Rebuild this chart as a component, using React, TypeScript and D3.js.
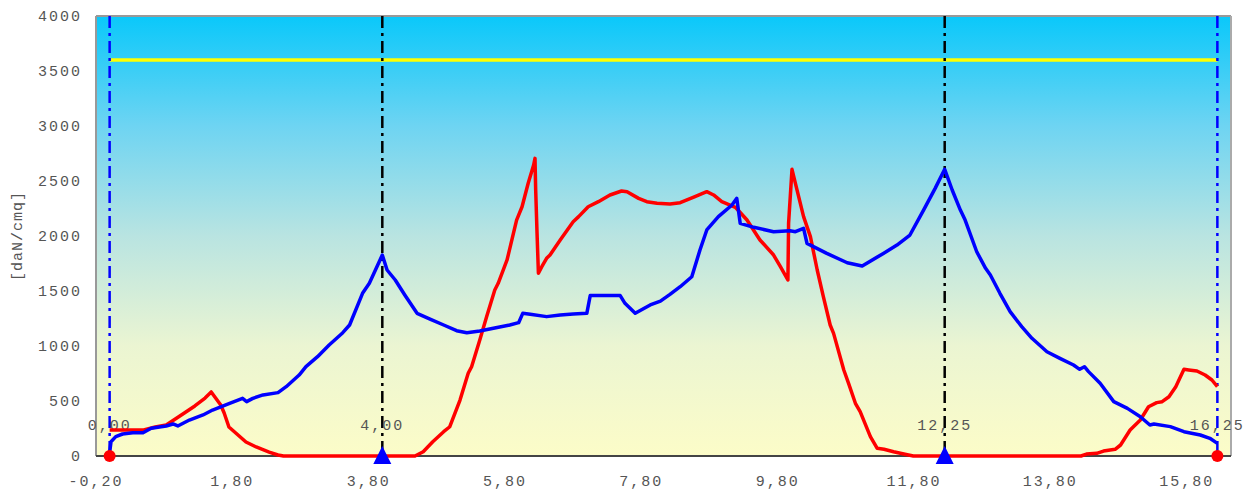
import React from "react";
import * as d3 from "d3";

const redX = [0, 0.5, 0.67, 0.83, 1.03, 1.25, 1.4, 1.49, 1.63, 1.68, 1.75, 1.85, 2.0, 2.15, 2.34, 2.47, 2.55, 4.48, 4.6, 4.74, 4.9, 4.99, 5.14, 5.26, 5.31, 5.43, 5.53, 5.65, 5.7, 5.83, 5.97, 6.05, 6.14, 6.22, 6.24, 6.25, 6.27, 6.29, 6.34, 6.41, 6.46, 6.61, 6.8, 6.88, 7.02, 7.17, 7.34, 7.51, 7.59, 7.76, 7.88, 8.03, 8.22, 8.37, 8.56, 8.76, 8.86, 8.98, 9.18, 9.35, 9.54, 9.74, 9.84, 9.91, 9.95, 9.96, 10.01, 10.06, 10.18, 10.28, 10.38, 10.47, 10.57, 10.62, 10.77, 10.84, 10.94, 11.01, 11.16, 11.26, 11.36, 11.5, 11.65, 11.72, 11.79, 14.25, 14.33, 14.48, 14.58, 14.75, 14.83, 14.97, 15.12, 15.24, 15.36, 15.44, 15.54, 15.64, 15.76, 15.83, 15.95, 16.07, 16.17, 16.25];
const redY = [236, 236, 264, 282, 364, 455, 527, 582, 464, 391, 264, 209, 127, 82, 36, 9, 0, 0, 39, 130, 221, 266, 509, 752, 812, 1055, 1266, 1509, 1570, 1782, 2145, 2266, 2479, 2645, 2706, 2418, 2024, 1661, 1721, 1797, 1827, 1964, 2130, 2176, 2266, 2312, 2373, 2409, 2403, 2342, 2312, 2297, 2291, 2303, 2352, 2403, 2373, 2312, 2261, 2145, 1964, 1827, 1721, 1645, 1600, 2115, 2606, 2479, 2176, 1994, 1691, 1448, 1191, 1115, 782, 661, 479, 403, 176, 70, 61, 39, 18, 9, 0, 0, 18, 24, 45, 61, 100, 236, 327, 448, 485, 494, 539, 630, 788, 782, 773, 736, 691, 630];

const blueX = [0, 0.02, 0.09, 0.19, 0.34, 0.49, 0.61, 0.83, 0.93, 1.0, 1.17, 1.37, 1.51, 1.76, 1.95, 2.01, 2.1, 2.25, 2.47, 2.59, 2.78, 2.88, 3.05, 3.22, 3.42, 3.52, 3.71, 3.81, 4.0, 4.07, 4.19, 4.33, 4.51, 4.7, 4.9, 5.09, 5.24, 5.43, 5.63, 5.87, 6.0, 6.06, 6.17, 6.41, 6.61, 6.8, 7.0, 7.05, 7.49, 7.56, 7.71, 7.93, 8.08, 8.22, 8.37, 8.54, 8.66, 8.76, 8.93, 9.13, 9.2, 9.25, 9.45, 9.74, 9.98, 10.06, 10.18, 10.23, 10.52, 10.82, 11.04, 11.35, 11.55, 11.74, 11.94, 12.11, 12.25, 12.36, 12.48, 12.55, 12.72, 12.85, 12.92, 13.06, 13.21, 13.38, 13.53, 13.75, 13.94, 14.14, 14.23, 14.3, 14.36, 14.53, 14.73, 14.93, 15.12, 15.26, 15.32, 15.56, 15.76, 16.0, 16.14, 16.25];
const blueY = [30, 130, 176, 200, 212, 212, 252, 273, 291, 273, 327, 373, 418, 479, 524, 494, 524, 555, 576, 630, 736, 812, 903, 1009, 1121, 1191, 1479, 1570, 1827, 1691, 1600, 1464, 1297, 1245, 1191, 1139, 1121, 1136, 1161, 1191, 1212, 1297, 1288, 1267, 1282, 1291, 1297, 1458, 1458, 1388, 1297, 1373, 1408, 1469, 1539, 1630, 1873, 2055, 2176, 2282, 2342, 2115, 2079, 2039, 2048, 2039, 2070, 1933, 1842, 1757, 1727, 1842, 1918, 2009, 2236, 2433, 2606, 2418, 2236, 2145, 1857, 1706, 1645, 1479, 1312, 1176, 1070, 948, 888, 827, 788, 812, 767, 661, 494, 433, 357, 282, 291, 267, 221, 191, 161, 115];

const yTicks = [0, 500, 1000, 1500, 2000, 2500, 3000, 3500, 4000];
const xTicks = [-0.2, 1.8, 3.8, 5.8, 7.8, 9.8, 11.8, 13.8, 15.8];
const limitValue = 3600;
const limitRange = [0, 16.25];
const blueMarks = [0, 16.25];
const blackMarks = [4.0, 12.25];
const redDots = [0, 16.25];
const triangles = [4.0, 12.25];
const markLabels = [0, 4.0, 12.25, 16.25];

const fmt = (v: number) => v.toFixed(2).replace(".", ",");

export default function App() {
  const W = 1258, H = 493;
  const x = d3.scaleLinear().domain([-0.2, 16.45]).range([96, 1231]);
  const y = d3.scaleLinear().domain([0, 4000]).range([456, 16]);
  const line = d3.line<[number, number]>().x(d => x(d[0])).y(d => y(d[1]));
  const red = line(d3.zip(redX, redY) as [number, number][]) || "";
  const blue = line(d3.zip(blueX, blueY) as [number, number][]) || "";
  const font = "'Liberation Mono', 'DejaVu Sans Mono', monospace";
  const [x0, x1] = x.range();
  const [yb, yt] = y.range();
  return (
    <svg width={W} height={H} style={{ position: "absolute", left: 0, top: 0 }}>
      <defs>
        <linearGradient id="bg" x1="0" y1="0" x2="0" y2="1">
          <stop offset="0%" stopColor="rgb(10,200,250)" />
          <stop offset="25%" stopColor="rgb(110,212,242)" />
          <stop offset="50%" stopColor="rgb(185,228,225)" />
          <stop offset="75%" stopColor="rgb(235,245,210)" />
          <stop offset="100%" stopColor="rgb(252,252,200)" />
        </linearGradient>
      </defs>
      <rect x={0} y={0} width={W} height={H} fill="#fff" />
      <rect x={x0} y={yt} width={x1 - x0} height={yb - yt} fill="url(#bg)" />
      <line x1={x0} x2={x0} y1={yt} y2={yb} stroke="#999" strokeWidth={2} />
      <line x1={x0} x2={x1} y1={yt} y2={yt} stroke="#999" strokeWidth={2} />
      <line x1={x1} x2={x1} y1={yt} y2={yb} stroke="#aaa" strokeWidth={2} />
      <line x1={x0} x2={x1} y1={yb} y2={yb} stroke="#444" strokeWidth={2} />
      <line x1={x(limitRange[0])} x2={x(limitRange[1])} y1={y(limitValue)} y2={y(limitValue)} stroke="#ffff00" strokeWidth={3.5} />
      {blueMarks.map(v => (
        <line key={"b" + v} x1={x(v)} x2={x(v)} y1={yt} y2={yb} stroke="#0000ff" strokeWidth={2.5} strokeDasharray="12,5,3,5" />
      ))}
      {blackMarks.map(v => (
        <line key={"k" + v} x1={x(v)} x2={x(v)} y1={yt} y2={yb} stroke="#000" strokeWidth={2.5} strokeDasharray="12,5,3,5" />
      ))}
      {markLabels.map(v => (
        <text key={"l" + v} x={x(v)} y={430} textAnchor="middle" fontFamily={font} fontSize={15} letterSpacing={2} fill="#555">{fmt(v)}</text>
      ))}
      <path d={red} fill="none" stroke="#ff0000" strokeWidth={3.5} strokeLinejoin="round" />
      <path d={blue} fill="none" stroke="#0000ff" strokeWidth={3.5} strokeLinejoin="round" />
      {redDots.map(v => (
        <circle key={"d" + v} cx={x(v)} cy={y(0)} r={6} fill="#ff0000" />
      ))}
      {triangles.map(v => (
        <path key={"t" + v} d={`M${x(v)},${y(0) - 10}L${x(v) + 9},${y(0) + 8}L${x(v) - 9},${y(0) + 8}Z`} fill="#0000ff" />
      ))}
      {yTicks.map(v => (
        <text key={"y" + v} x={82} y={y(v)} dy="0.35em" textAnchor="end" fontFamily={font} fontSize={15} letterSpacing={2} fill="#555">{v}</text>
      ))}
      {xTicks.map(v => (
        <text key={"x" + v} x={x(v)} y={486} textAnchor="middle" fontFamily={font} fontSize={15} letterSpacing={2} fill="#555">{fmt(v)}</text>
      ))}
      <text transform={`translate(22,${(yt + yb) / 2}) rotate(-90)`} textAnchor="middle" fontFamily={font} fontSize={15} letterSpacing={1} fill="#555">[daN/cmq]</text>
    </svg>
  );
}
